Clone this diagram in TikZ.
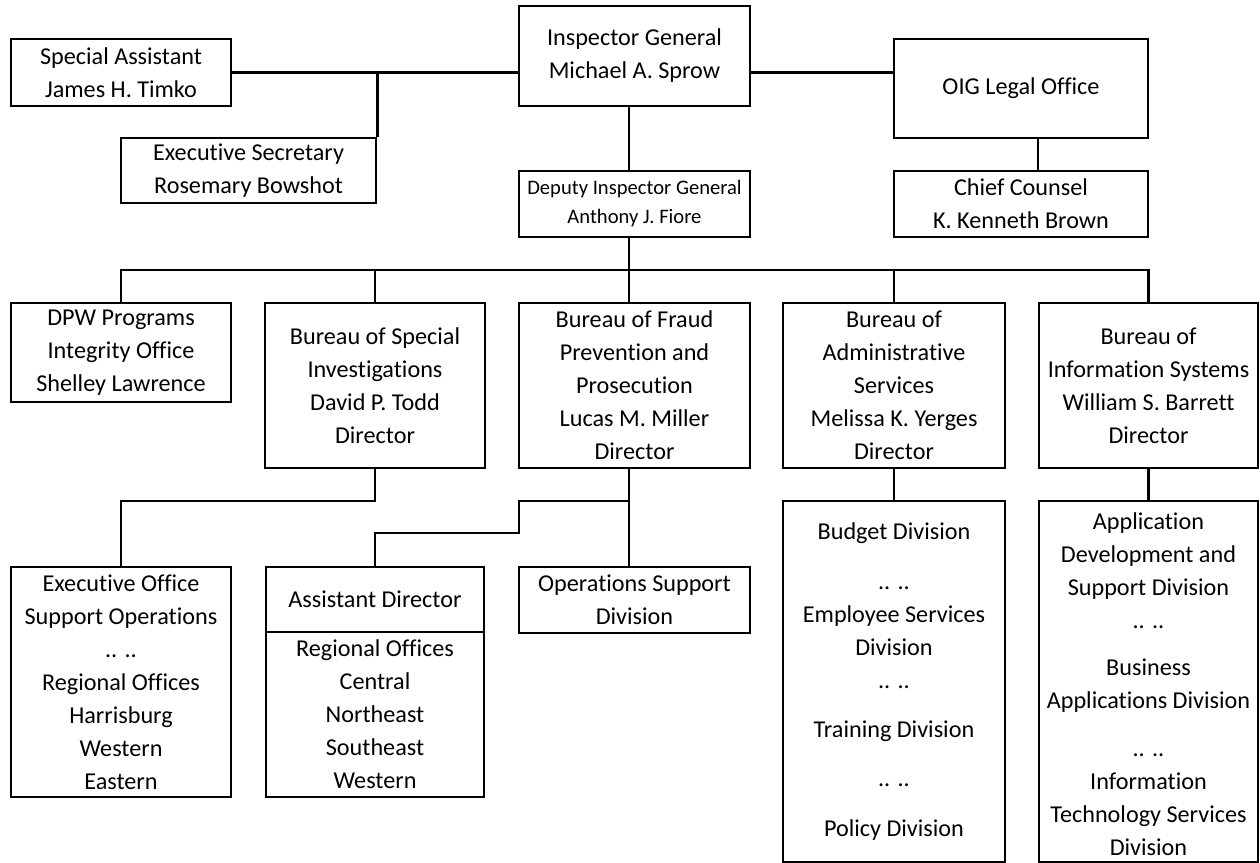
\documentclass[tikz,border=0pt]{standalone}
\usepackage{fontspec}
\setmainfont{Carlito}[RawFeature={-liga;-clig}]
\usepackage{tikz}
\usetikzlibrary{calc}
\usetikzlibrary{positioning}

\begin{document}
\begin{tikzpicture}[x=0.5pt, y=-0.5pt]
			\tikzstyle{line}=[draw, line width=1.3pt]
			\tikzstyle{box}=[rectangle, draw, line width=1.3pt, align=center, inner sep=0pt, font=\fontsize{12.1}{16.5}\selectfont]
			\useasboundingbox (0, 0) rectangle (1260, 863);

			\node[box, minimum width=115.5pt, minimum height=50pt] at (634.5, 56) (inspectorGeneral) {Inspector General\\Michael A. Sprow};
			\node[box, minimum width=110pt, minimum height=33.5pt] at (121, 72.5) (specialAssistant) {Special Assistant\\James H. Timko};
			\node[box, minimum width=127.5pt, minimum height=32.5pt] at (248.5, 170.5) (executiveSecretary) {Executive Secretary\\Rosemary Bowshot};
			\node[box, minimum width=127pt, minimum height=49.5pt] at (1021, 88.5) (legalOffice) {OIG Legal Office};
			\node[box, minimum width=127pt, minimum height=33pt] at (1021, 204) (chiefCounsel) {Chief Counsel\\K. Kenneth Brown};
			\node[box, minimum width=115.5pt, minimum height=33pt, font=\fontsize{10.3}{14.5}\selectfont] at (634.5, 204) (deputyInspector) {Deputy Inspector General\\Anthony J. Fiore};

			\path[line] (specialAssistant.east) -- (specialAssistant.east -| inspectorGeneral.west);
			\path[line] (specialAssistant.east -| inspectorGeneral.east) -- (specialAssistant.east -| legalOffice.west);
			\path[line] (executiveSecretary.north east) -- (executiveSecretary.north east |- specialAssistant.east);
			\path[line] ([xshift=-2.75pt]inspectorGeneral.south) -- ([xshift=-2.75pt]deputyInspector.north);
			\path[line] ([xshift=8.5pt]legalOffice.south) -- ([xshift=8.5pt]chiefCounsel.north);

			\node[box, minimum width=110pt, minimum height=49.5pt] at (121, 352.5) (dpwOffice) {DPW Programs\\Integrity Office\\Shelley Lawrence};
			\node[box, minimum width=110pt, minimum height=82.5pt] at (375, 385.5) (specialInvestigations) {Bureau of Special\\Investigations\\David P. Todd\\Director};
			\node[box, minimum width=115.5pt, minimum height=82.5pt] at (634.5, 385.5) (fraudPrevention) {Bureau of Fraud\\Prevention and\\Prosecution\\Lucas M. Miller\\Director};
			\node[box, minimum width=111pt, minimum height=82.5pt] at (894, 385.5) (administrativeServices) {Bureau of\\Administrative\\Services\\Melissa K. Yerges\\Director};
			\node[box, minimum width=109.5pt, minimum height=82.5pt] at (1148.5, 385.5) (informationSystems) {Bureau of\\Information Systems\\William S. Barrett\\Director};

			\coordinate (deputyPoint) at (629, 270);
			\path[line] ([xshift=-2.75pt]deputyInspector.south) -- (deputyPoint);
			\path[line] (dpwOffice.north) -- (dpwOffice.north |- deputyPoint) -- (informationSystems.north |- deputyPoint) -- (informationSystems.north);
			\path[line] (specialInvestigations.north) -- (specialInvestigations.north |- deputyPoint);
			\path[line] ([xshift=-2.75pt]fraudPrevention.north) -- (deputyPoint);
			\path[line] (administrativeServices.north) -- (administrativeServices.north |- deputyPoint);

			\node[box, minimum width=110pt, minimum height=115pt] at (121, 682) (executiveOffice) {Executive Office\\Support Operations\\.. ..\\Regional Offices\\Harrisburg\\Western\\Eastern};
			\node[box, minimum width=109pt, minimum height=32.5pt] at (375, 599.5) (assistantDirector) {Assistant Director};
			\node[box, minimum width=109pt, minimum height=82.5pt] at (375, 714.5) (regionalOffices) {Regional Offices\\Central\\Northeast\\Southeast\\Western};
			\node[box, minimum width=115.5pt, minimum height=33pt] at (634.5, 600) (operationsSupport) {Operations Support\\Division};
			\node[box, minimum width=111pt, minimum height=180.5pt] at (894, 681.5) (adminDivisions) {Budget Division\\[8.5pt].. ..\\Employee Services\\Division\\.. ..\\[8pt]Training Division\\[8pt].. ..\\[8.5pt]Policy Division};
			\node[box, minimum width=109.5pt, minimum height=180.5pt] at (1148.5, 681.5) (systemsDivisions) {\\[-5pt]Application\\Development and\\Support Division\\.. ..\\[7pt]Business\\Applications Division\\[7.5pt].. ..\\Information\\Technology Services\\Division};

			\coordinate (investigationsPoint) at (375, 501);
			\path[line] (specialInvestigations.south) -- (investigationsPoint) -- (investigationsPoint -| executiveOffice.north) -- (executiveOffice.north);

			\coordinate (fraudPointOne) at (629, 501);
			\coordinate (fraudPointTwo) at (519, 533);
			\path[line] ([xshift=-2.75pt]fraudPrevention.south) -- ([xshift=-2.75pt]operationsSupport.north);
			\path[line] (fraudPointOne) -- (fraudPointOne -| fraudPointTwo) -- (fraudPointTwo) -- (fraudPointTwo -| assistantDirector.north) -- (assistantDirector.north);

			\path[line] (administrativeServices.south) -- (adminDivisions.north);
			\path[line] (informationSystems.south) -- (systemsDivisions.north);
\end{tikzpicture}
\end{document}
